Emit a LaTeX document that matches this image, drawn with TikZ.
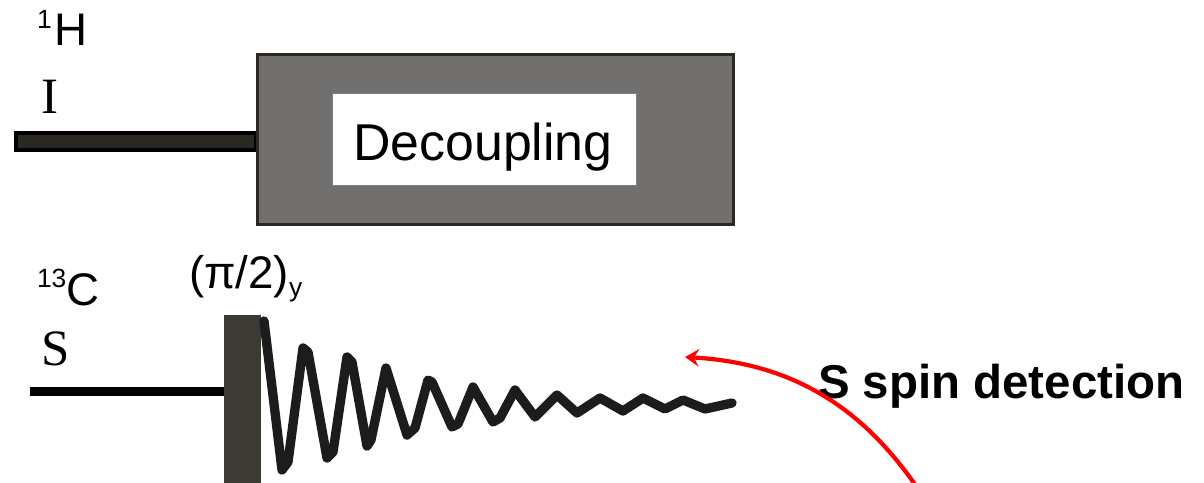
\documentclass[tikz,border=0pt]{standalone}
\usepackage{fontspec}
\setmainfont{Liberation Sans}
\newfontfamily\tms{Liberation Serif}
\usetikzlibrary{arrows.meta}
\definecolor{boxgray}{HTML}{72706E}
\definecolor{bardark}{HTML}{2B2723}
\definecolor{pulsedark}{HTML}{3D3935}
\definecolor{fidblack}{HTML}{1C1C1C}
\tikzset{
  lbl/.style={inner sep=0pt, outer sep=0pt, anchor=base west},
  sflbl/.style={lbl, font=\fontsize{26}{26}\selectfont},
  serlbl/.style={lbl, font=\tms\fontsize{29}{29}\selectfont},
  fid/.style={draw=fidblack, line width=5.3pt, line join=round, line cap=round},
  redarrow/.style={draw=red, line width=2.4pt, -{Stealth[length=8pt,width=10pt,inset=3pt]}}
}
\begin{document}
\begin{tikzpicture}[x=0.02cm, y=-0.02cm]
\useasboundingbox (0,0) rectangle (1204,483);
% I channel
\node[sflbl] (hlabel) at (37,46) {\raisebox{10pt}{\fontsize{15}{15}\selectfont 1}\hspace{1.5pt}H};
\node[serlbl] (ilabel) at (41,113) {I};
\draw[fill=bardark, draw=black, line width=2.6pt] (16,133) rectangle (256,150);
\draw[fill=boxgray, draw=bardark, line width=1.7pt] (257.5,54.5) rectangle (733.5,224.5);
\draw[fill=white, draw=gray, line width=0.4pt] (332,93) rectangle (636,185);
\node[lbl, anchor=base, font=\fontsize{29.5}{29.5}\selectfont] (dec) at (483,160) {Decoupling};
% S channel
\node[sflbl] (clabel) at (37,305) {\raisebox{10pt}{\fontsize{15}{15}\selectfont 13}C};
\node[serlbl] (slabel) at (41,365) {S};
\draw[black, line width=5.1pt] (30,391.5) -- (224,391.5);
\fill[pulsedark] (224,315) rectangle (261,485);
\node[lbl, font=\fontsize{26}{26}\selectfont] (pulse) at (189,288) {(π/2)\raisebox{-5pt}{\fontsize{15}{15}\selectfont y}};
\draw[fid] (264,321) -- (282,470) -- (288,462) -- (303,348) -- (308,352) -- (327,458) -- (333,452) -- (347,357) -- (352,362)
  -- (367,446) -- (371,440) -- (386,368) -- (407,435) -- (415,428) -- (428,380) -- (432,382) -- (452,427) -- (458,424)
  -- (473,387) -- (493,422) -- (500,418) -- (515,390) -- (535,417) -- (557,395) -- (577,413) -- (600,398)
  -- (623,411) -- (643,398) -- (665,409) -- (683,400) -- (705,409) -- (732,403);
% detection label and arrow
\node[lbl, font=\bfseries\fontsize{27}{27}\selectfont] (det) at (818,398) {S spin detection};
\coordinate (arrstart) at (916,486);
\coordinate (arrend) at (685,357);
\draw[redarrow] (arrstart) .. controls (860,405) and (790,363) .. (arrend);
\end{tikzpicture}
\end{document}
